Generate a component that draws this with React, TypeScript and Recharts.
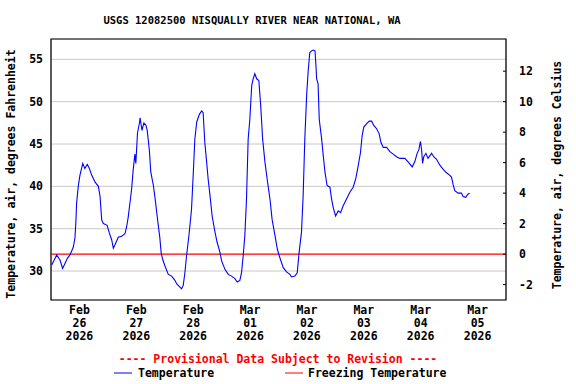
import React from 'react';
import {
  LineChart,
  Line,
  XAxis,
  YAxis,
  CartesianGrid,
  ReferenceLine,
  ReferenceArea
} from 'recharts';

// hours since Feb 26 2026 00:00
const hours = [
  0.3, 2.4, 3.8, 4.9, 5.9, 6.9, 8.0, 9.4, 10.1, 10.5,
  10.8, 11.5, 12.2, 13.4, 14.3, 15.3, 16.2, 17.2, 18.6, 20.0,
  20.7, 21.4, 22.1, 23.7, 24.6, 25.6, 26.3, 27.0, 28.4, 29.8,
  31.2, 31.9, 32.6, 33.3, 34.0, 34.7, 35.4, 35.8, 36.5, 37.4,
  37.6, 38.4, 39.2, 40.1, 40.6, 41.5, 42.1, 43.2, 44.0, 45.0,
  45.9, 46.5, 47.2, 48.1, 49.5, 50.9, 52.3, 53.0, 54.4, 55.1,
  55.8, 56.5, 57.2, 58.2, 59.3, 60.0, 60.7, 61.5, 62.6, 63.6,
  64.2, 64.9, 65.7, 66.3, 67.1, 68.0, 69.2, 70.1, 71.3, 72.0,
  73.4, 74.8, 76.2, 77.6, 78.6, 79.7, 80.4, 81.1, 81.8, 82.5,
  83.2, 83.9, 84.7, 85.3, 86.0, 86.8, 87.7, 88.5, 89.3, 90.3,
  91.2, 92.4, 93.3, 94.5, 95.5, 96.3, 98.0, 99.4, 100.8, 101.5,
  102.9, 103.9, 104.7, 105.7, 106.4, 107.1, 107.9, 108.5, 109.2, 110.0,
  110.6, 111.4, 111.8, 112.1, 112.7, 113.2, 114.2, 114.9, 115.6, 116.5,
  117.7, 118.4, 119.1, 120.1, 121.2, 122.2, 123.3, 124.7, 126.1, 127.5,
  128.6, 129.6, 130.6, 131.3, 132.0, 133.2, 134.3, 135.3, 136.2, 137.4,
  138.5, 139.2, 140.2, 141.6, 143.0, 144.4, 145.8, 147.2, 149.3, 150.7,
  152.4, 153.5, 154.5, 155.2, 155.9, 156.4, 156.8, 157.3, 158.2, 159.1,
  160.6, 161.5, 162.7, 164.1, 165.5, 166.9, 168.3, 169.0, 169.7, 170.4,
  171.8, 173.2, 173.9, 175.0, 176.0, 176.7
];

// air temperature, degrees Fahrenheit
const tempF = [
  30.7, 31.9, 31.3, 30.3, 30.9, 31.5, 31.9, 32.8, 33.9, 35.8,
  38.0, 40.0, 41.3, 42.7, 42.1, 42.6, 42.1, 41.3, 40.5, 40.0,
  38.8, 36.0, 35.6, 35.4, 34.5, 33.7, 32.7, 33.1, 34.0, 34.1,
  34.4, 35.2, 36.4, 38.0, 39.6, 42.0, 43.8, 42.7, 46.3, 47.6,
  48.1, 46.6, 47.5, 47.2, 46.6, 44.3, 41.7, 40.1, 38.4, 36.0,
  34.0, 32.1, 31.3, 30.6, 29.6, 29.4, 28.9, 28.5, 28.1, 27.9,
  28.3, 29.8, 31.8, 34.2, 37.3, 41.3, 45.6, 47.6, 48.5, 48.9,
  48.7, 45.2, 42.8, 40.9, 38.9, 36.5, 34.6, 33.4, 32.2, 31.2,
  30.2, 29.6, 29.4, 29.1, 28.7, 28.9, 29.8, 31.8, 34.2, 38.5,
  45.6, 47.9, 51.9, 52.7, 53.3, 52.7, 52.5, 49.5, 45.6, 42.8,
  40.9, 38.5, 36.1, 34.2, 32.6, 31.8, 30.4, 29.9, 29.6, 29.3,
  29.4, 29.8, 32.2, 34.6, 38.9, 45.6, 50.9, 53.5, 55.8, 56.0,
  56.1, 56.0, 54.3, 52.7, 52.1, 47.9, 45.6, 43.6, 41.7, 40.1,
  39.9, 38.5, 37.5, 36.5, 37.1, 36.9, 37.7, 38.5, 39.3, 39.9,
  40.9, 42.4, 44.0, 46.0, 47.0, 47.4, 47.7, 47.7, 47.2, 46.8,
  46.2, 45.2, 44.6, 44.6, 44.1, 43.8, 43.5, 43.3, 43.3, 42.9,
  42.3, 42.9, 43.9, 44.3, 45.3, 44.3, 42.7, 43.5, 43.9, 43.3,
  43.9, 43.5, 43.2, 42.5, 42.0, 41.6, 41.3, 41.1, 40.2, 39.5,
  39.2, 39.2, 38.8, 38.7, 39.1, 39.2
];

const freezingF = 32;

const dayTicks = [0, 24, 48, 72, 96, 120, 144, 168, 192];
const labelTicks = [12, 36, 60, 84, 108, 132, 156, 180];
const tickMonths = ['Feb', 'Feb', 'Feb', 'Mar', 'Mar', 'Mar', 'Mar', 'Mar'];
const tickDays = ['26', '27', '28', '01', '02', '03', '04', '05'];
const tickYears = ['2026', '2026', '2026', '2026', '2026', '2026', '2026', '2026'];

const fTicks = [30, 35, 40, 45, 50, 55];
const cTicks = [-2, 0, 2, 4, 6, 8, 10, 12];

const fDomain = [26.58, 57.4];
const cDomain = [(fDomain[0] - 32) / 1.8, (fDomain[1] - 32) / 1.8];

// same readings, also in Celsius so the right axis has a series of its own
const data = hours.map((h, i) => ({ h, temp: tempF[i], tempC: (tempF[i] - 32) / 1.8 }));

const FONT = '"DejaVu Sans Mono", monospace';

const DateTick = (props: any) => {
  const { x, y, index } = props;
  return (
    <g fontFamily={FONT} fontWeight="bold" fontSize={11.5} fill="#000">
      <text x={x} y={y + 8} textAnchor="middle">{tickMonths[index]}</text>
      <text x={x} y={y + 21} textAnchor="middle">{tickDays[index]}</text>
      <text x={x} y={y + 34} textAnchor="middle">{tickYears[index]}</text>
    </g>
  );
};

const CelsiusTick = (props: any) => {
  const { x, y, payload } = props;
  return (
    <g>
      <line x1={x - 16} x2={x - 13} y1={y} y2={y} stroke="#000" />
      <text x={x} y={y + 4} fontFamily={FONT} fontWeight="bold" fontSize={11.5} fill="#000">
        {payload.value}
      </text>
    </g>
  );
};

const App: React.FC = () => {
  return (
    <div style={{ position: 'absolute', left: 0, top: 0, width: 576, height: 384, background: '#fff' }}>
      <LineChart width={576} height={384} data={data} margin={{ top: 39, right: 0, bottom: 0, left: 0 }}>
        <CartesianGrid stroke="#c8c8c8" yAxisId="f" xAxisId="grid" />
        <XAxis
          xAxisId="grid"
          dataKey="h"
          type="number"
          domain={[0, 192]}
          ticks={dayTicks}
          tick={false}
          tickLine={false}
          axisLine={false}
          height={0}
        />
        <XAxis
          xAxisId="lab"
          dataKey="h"
          type="number"
          domain={[0, 192]}
          ticks={labelTicks}
          tick={<DateTick />}
          tickLine={false}
          axisLine={false}
          tickSize={0}
          tickMargin={6}
          height={84}
        />
        <YAxis
          yAxisId="f"
          type="number"
          domain={fDomain}
          ticks={fTicks}
          width={51}
          tickLine={false}
          axisLine={false}
          tickSize={0}
          tickMargin={8}
          tick={{ fontFamily: FONT, fontWeight: 'bold', fontSize: 11.5, fill: '#000' }}
        />
        <YAxis
          yAxisId="c"
          orientation="right"
          type="number"
          domain={cDomain}
          allowDataOverflow
          ticks={cTicks}
          width={70}
          tickLine={false}
          axisLine={false}
          tickSize={0}
          tickMargin={13}
          tick={<CelsiusTick />}
        />
        <ReferenceLine yAxisId="f" xAxisId="grid" y={freezingF} stroke="#ff0000" strokeWidth={1.2} />
        <Line
          yAxisId="c"
          xAxisId="lab"
          type="linear"
          dataKey="tempC"
          stroke="none"
          dot={false}
          legendType="none"
          isAnimationActive={false}
        />
        <Line
          yAxisId="f"
          xAxisId="grid"
          type="linear"
          dataKey="temp"
          stroke="#0000ff"
          strokeWidth={1.1}
          dot={false}
          isAnimationActive={false}
        />
        <ReferenceArea
          yAxisId="f"
          xAxisId="grid"
          x1={0}
          x2={192}
          y1={fDomain[0]}
          y2={fDomain[1]}
          fill="none"
          stroke="#000"
          strokeWidth={1.2}
        />
      </LineChart>
      <svg
        width={576}
        height={384}
        style={{ position: 'absolute', left: 0, top: 0, pointerEvents: 'none' }}
        fontFamily={FONT}
        fontWeight="bold"
        fontSize={11.5}
      >
        <text x={252} y={24} textAnchor="middle" fill="#000" fontSize={10.5}>
          USGS 12082500 NISQUALLY RIVER NEAR NATIONAL, WA
        </text>
        <text x={15} y={174} textAnchor="middle" fill="#000" transform="rotate(-90 15 174)">
          Temperature, air, degrees Fahrenheit
        </text>
        <text x={561} y={175} textAnchor="middle" fill="#000" transform="rotate(-90 561 175)">
          Temperature, air, degrees Celsius
        </text>
        <text x={278} y={363} textAnchor="middle" fill="#ff0000">
          ---- Provisional Data Subject to Revision ----
        </text>
        <line x1={114} x2={132} y1={373} y2={373} stroke="#0000ff" />
        <text x={138} y={377} fill="#000">Temperature</text>
        <line x1={285} x2={303} y1={373} y2={373} stroke="#ff0000" />
        <text x={308} y={377} fill="#000">Freezing Temperature</text>
      </svg>
    </div>
  );
};

export default App;
